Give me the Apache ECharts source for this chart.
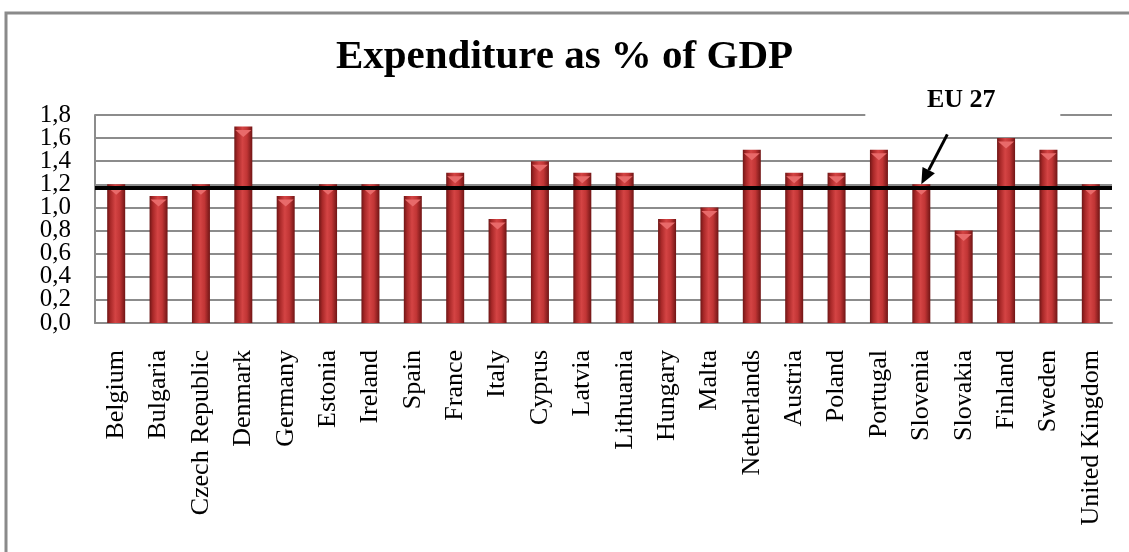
<!DOCTYPE html>
<html>
<head>
<meta charset="utf-8">
<script src="https://cdn.jsdelivr.net/npm/echarts@6/dist/echarts.min.js"></script>
<style>
  html, body { margin: 0; padding: 0; background: #ffffff; }
  #chart { width: 1129px; height: 552px; }
</style>
</head>
<body>
<div id="chart"></div>
<script>
// Public expenditure as a share of GDP, by member state
const countries = [
  'Belgium', 'Bulgaria', 'Czech Republic', 'Denmark', 'Germany', 'Estonia',
  'Ireland', 'Spain', 'France', 'Italy', 'Cyprus', 'Latvia', 'Lithuania',
  'Hungary', 'Malta', 'Netherlands', 'Austria', 'Poland', 'Portugal',
  'Slovenia', 'Slovakia', 'Finland', 'Sweden', 'United Kingdom'
];
const expenditure = [
  1.2, 1.1, 1.2, 1.7, 1.1, 1.2,
  1.2, 1.1, 1.3, 0.9, 1.4, 1.3, 1.3,
  0.9, 1.0, 1.5, 1.3, 1.3, 1.5,
  1.2, 0.8, 1.6, 1.5, 1.2
];
// EU-27 average level
const eu27Average = 1.17;
const eu27Label = 'EU 27';
const eu27Country = 'Slovenia';
// value-axis ticks and their labels (decimal comma)
const yTickValues = [0, 0.2, 0.4, 0.6, 0.8, 1.0, 1.2, 1.4, 1.6, 1.8];
const yTickLabels = ['0,0', '0,2', '0,4', '0,6', '0,8', '1,0', '1,2', '1,4', '1,6', '1,8'];

const serif = '"Liberation Serif", "Times New Roman", serif';

const chart = echarts.init(document.getElementById('chart'), null, { renderer: 'canvas' });

const barGradient = new echarts.graphic.LinearGradient(0, 0, 1, 0, [
  { offset: 0, color: '#6e1616' },
  { offset: 0.18, color: '#a82828' },
  { offset: 0.45, color: '#d44444' },
  { offset: 0.7, color: '#c13535' },
  { offset: 1, color: '#701515' }
]);

const gridLeft = 95;

const option = {
  backgroundColor: '#ffffff',
  animation: false,
  title: {
    text: 'Expenditure as % of GDP',
    left: 'center',
    top: 32,
    textStyle: { fontFamily: serif, fontSize: 41, fontWeight: 'bold', color: '#000' }
  },
  grid: { left: gridLeft, right: 17, top: 115, bottom: 229 },
  xAxis: {
    type: 'category',
    data: countries,
    axisLine: { show: true, lineStyle: { color: '#8c8c8c', width: 2 } },
    axisTick: { show: false },
    axisLabel: {
      rotate: 90,
      interval: 0,
      margin: 27,
      fontFamily: serif,
      fontSize: 26,
      color: '#000',
      hideOverlap: false
    }
  },
  yAxis: {
    type: 'value',
    min: yTickValues[0],
    max: yTickValues[yTickValues.length - 1],
    interval: yTickValues[1] - yTickValues[0],
    axisLine: { show: true, lineStyle: { color: '#8c8c8c', width: 2 } },
    axisTick: { show: false },
    splitLine: { lineStyle: { color: '#8c8c8c', width: 2 } },
    // tick labels are set tightly; drawn below so none get culled
    axisLabel: { show: false }
  },
  series: [
    {
      type: 'bar',
      data: expenditure,
      barWidth: 18,
      itemStyle: {
        color: barGradient,
        shadowColor: 'rgba(0,0,0,0.35)',
        shadowBlur: 5,
        shadowOffsetX: 2,
        shadowOffsetY: 3
      },
      markLine: {
        silent: true,
        symbol: 'none',
        label: { show: false },
        lineStyle: { color: '#000', width: 4, type: 'solid' },
        data: [{ yAxis: eu27Average }]
      },
      z: 2
    },
    {
      // bevelled cap on top of each column
      type: 'pictorialBar',
      data: expenditure,
      symbol: 'triangle',
      symbolRotate: 180,
      symbolSize: [16, 7],
      symbolPosition: 'end',
      symbolOffset: [0, '50%'],
      itemStyle: { color: '#e86a6a' },
      silent: true,
      z: 3
    }
  ]
};

chart.setOption(option);

// Value-axis tick labels, placed through the axis scale
const tickGraphics = yTickValues.map((v, i) => {
  const y = chart.convertToPixel({ yAxisIndex: 0 }, v);
  return {
    type: 'text',
    silent: true,
    x: gridLeft - 24,
    y: y,
    style: {
      text: yTickLabels[i],
      fontFamily: serif,
      fontSize: 25,
      fill: '#000',
      align: 'right',
      verticalAlign: 'middle'
    },
    z: 5
  };
});

// Arrow pointing from the EU 27 label down to the reference column
const idx = countries.indexOf(eu27Country);
const tip = chart.convertToPixel({ seriesIndex: 0 }, [idx, expenditure[idx]]);
const tail = [tip[0] + 26, tip[1] - 50];
const ang = Math.atan2(tip[1] - tail[1], tip[0] - tail[0]);
const headLen = 16, headHalf = 7;
const base = [tip[0] - headLen * Math.cos(ang), tip[1] - headLen * Math.sin(ang)];
const nx = -Math.sin(ang), ny = Math.cos(ang);
const labelCenter = [tail[0] + 14, tail[1] - 34];

chart.setOption({
  graphic: tickGraphics.concat([
    {
      type: 'rect',
      silent: true,
      shape: { x: 6, y: 13, width: 1200, height: 700 },
      style: { fill: 'none', stroke: '#8a8a8a', lineWidth: 3 },
      z: 0
    },
    {
      // white patch behind the label that interrupts the top gridline
      type: 'rect',
      silent: true,
      shape: { x: labelCenter[0] - 96, y: labelCenter[1] - 18, width: 195, height: 38 },
      style: { fill: '#ffffff' },
      z: 10
    },
    {
      type: 'text',
      silent: true,
      x: labelCenter[0],
      y: labelCenter[1],
      style: {
        text: eu27Label,
        fontFamily: serif,
        fontSize: 26,
        fontWeight: 'bold',
        fill: '#000',
        align: 'center',
        verticalAlign: 'middle'
      },
      z: 11
    },
    {
      type: 'line',
      silent: true,
      shape: { x1: tail[0], y1: tail[1], x2: base[0], y2: base[1] },
      style: { stroke: '#000', lineWidth: 3 },
      z: 11
    },
    {
      type: 'polygon',
      silent: true,
      shape: {
        points: [
          tip,
          [base[0] + nx * headHalf, base[1] + ny * headHalf],
          [base[0] - nx * headHalf, base[1] - ny * headHalf]
        ]
      },
      style: { fill: '#000' },
      z: 11
    }
  ])
});
</script>
</body>
</html>
